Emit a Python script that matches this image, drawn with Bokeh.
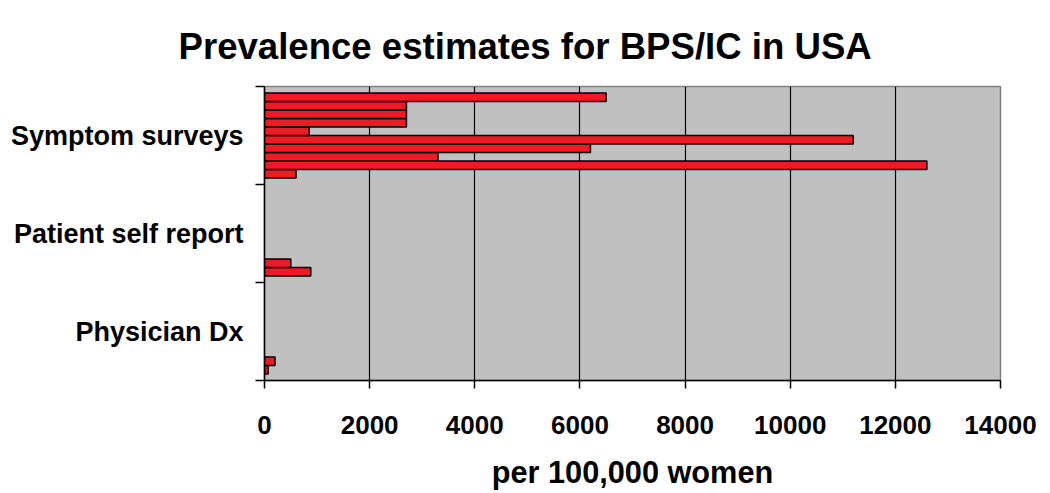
from bokeh.plotting import figure
from bokeh.models import FixedTicker, ColumnDataSource, Title
from bokeh.embed import file_html
from bokeh.resources import INLINE

# categories, bottom to top
categories = ["Physician Dx", "Patient self report", "Symptom surveys"]
# values per category, listed from the bottom bar slot upward (per 100,000 women)
physician_dx = [70, 200]
patient_self_report = [880, 500]
symptom_surveys = [600, 12600, 3300, 6200, 11200, 850, 2700, 2700, 2700, 6500]
x_ticks = [0, 2000, 4000, 6000, 8000, 10000, 12000, 14000]

n_slots = 10
gap = 1.5
h = 1.0 / (n_slots + gap)

ys, rights = [], []
for ci, vals in enumerate([physician_dx, patient_self_report, symptom_surveys]):
    for si, v in enumerate(vals):
        ys.append(ci + gap / 2 * h + (si + 0.5) * h)
        rights.append(v)
src = ColumnDataSource(dict(y=ys, right=rights))

FONT = "Liberation Sans"

p = figure(width=1050, height=493, output_backend="svg", toolbar_location=None,
           x_range=(0, 14000), y_range=(0, 3), title=None,
           min_border_left=264, min_border_right=50, min_border_top=86, min_border_bottom=113)
p.background_fill_color = "#C0C0C0"
p.border_fill_color = "white"
p.outline_line_color = "#808080"
p.outline_line_width = 1.5

p.hbar(y="y", right="right", left=0, height=h, source=src,
       fill_color="#ED1C24", line_color="black", line_width=1.5)

# x axis
p.xaxis.ticker = FixedTicker(ticks=x_ticks)
p.xaxis.axis_line_color = "black"
p.xaxis.axis_line_width = 1.5
p.xaxis.major_tick_out = 8
p.xaxis.major_tick_in = 0
p.xaxis.major_tick_line_color = "black"
p.xaxis.major_tick_line_width = 1.5
p.xaxis.minor_tick_line_color = None
p.xaxis.major_label_text_font = FONT
p.xaxis.major_label_text_font_style = "bold"
p.xaxis.major_label_text_font_size = "26px"
p.xaxis.major_label_text_color = "black"
p.xaxis.major_label_standoff = 27
p.xaxis.axis_label = "per 100,000 women"
p.xaxis.axis_label_text_font = FONT
p.xaxis.axis_label_text_font_style = "bold"
p.xaxis.axis_label_text_font_size = "30.7px"
p.xaxis.axis_label_text_color = "black"
p.xaxis.axis_label_standoff = 18

# y axis: labels centred in bands, tick marks at band edges
p.yaxis.ticker = FixedTicker(ticks=[0.5, 1.5, 2.5], minor_ticks=[0, 1, 2, 3])
p.yaxis.major_label_overrides = {0.5: categories[0], 1.5: categories[1], 2.5: categories[2]}
p.yaxis.axis_line_color = "black"
p.yaxis.axis_line_width = 1.5
p.yaxis.major_tick_line_color = None
p.yaxis.major_tick_out = 0
p.yaxis.major_tick_in = 0
p.yaxis.minor_tick_line_color = "black"
p.yaxis.minor_tick_line_width = 1.5
p.yaxis.minor_tick_out = 9
p.yaxis.minor_tick_in = 0
p.yaxis.major_label_text_font = FONT
p.yaxis.major_label_text_font_style = "bold"
p.yaxis.major_label_text_font_size = "27px"
p.yaxis.major_label_text_color = "black"
p.yaxis.major_label_standoff = 12

p.xgrid.ticker = FixedTicker(ticks=x_ticks)
p.xgrid.grid_line_color = "black"
p.xgrid.grid_line_width = 1.2
p.ygrid.grid_line_color = None

t = Title(text="Prevalence estimates for BPS/IC in USA", align="left", offset=-86,
          text_font=FONT, text_font_style="bold", text_font_size="36.6px",
          text_color="black", standoff=40)
p.add_layout(t, "above")

open("out.html", "w").write(file_html(p, INLINE))
